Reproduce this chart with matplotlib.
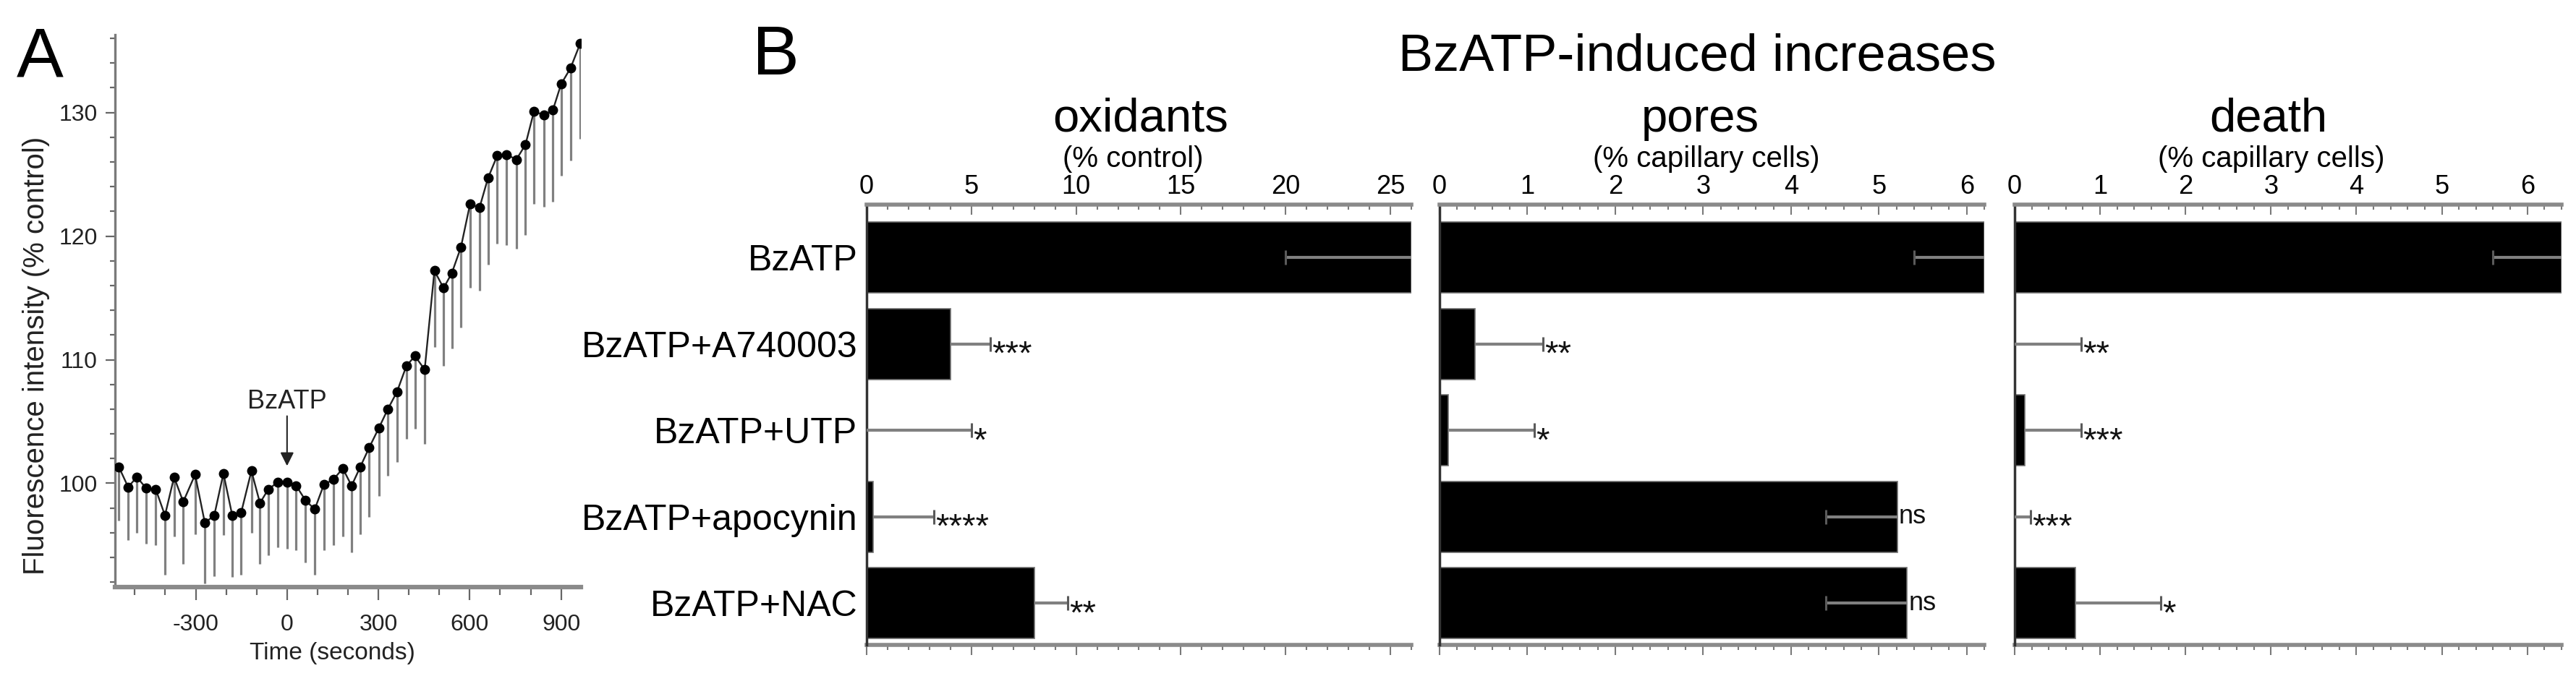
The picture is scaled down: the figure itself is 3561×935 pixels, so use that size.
import matplotlib.pyplot as plt
from matplotlib.ticker import MultipleLocator

plt.rcParams['font.family'] = ['Liberation Sans', 'DejaVu Sans']
plt.rcParams['axes.unicode_minus'] = False

# ---- panel A: time course -------------------------------------------------
times_s = [-552, -522, -493, -463, -431, -401, -371, -341, -302, -270, -239,
           -209, -180, -151, -117, -89, -62, -30, 0, 30, 61, 91, 121, 152,
           183, 212, 240, 270, 302, 331, 361, 392, 420, 452, 484, 514, 541,
           571, 601, 632, 660, 690, 721, 753, 783, 811, 843, 873, 900, 931, 963]
fluor = [101.3, 99.7, 100.5, 99.6, 99.5, 97.4, 100.5, 98.5, 100.7, 96.8, 97.4,
         100.8, 97.4, 97.6, 101.0, 98.4, 99.5, 100.1, 100.1, 99.8, 98.6, 97.9,
         99.9, 100.3, 101.2, 99.8, 101.3, 102.9, 104.5, 106.0, 107.4, 109.5,
         110.3, 109.2, 117.2, 115.8, 117.0, 119.1, 122.6, 122.3, 124.7, 126.5,
         126.6, 126.2, 127.4, 130.1, 129.8, 130.2, 132.3, 133.6, 135.6]
fluor_lo = [97.0, 95.4, 96.0, 95.1, 95.0, 92.6, 95.7, 93.5, 95.9, 91.9, 92.5,
            95.8, 92.4, 92.6, 96.0, 93.5, 94.2, 94.8, 94.7, 94.6, 93.6, 92.6,
            94.6, 95.0, 95.7, 94.4, 95.9, 97.3, 99.0, 100.6, 101.7, 103.6,
            104.4, 103.2, 111.0, 109.5, 110.9, 112.6, 115.8, 115.6, 117.7, 119.4,
            119.3, 119.0, 120.1, 122.6, 122.4, 122.8, 124.9, 126.1, 127.9]

# ---- panel B: bar charts --------------------------------------------------
groups = ['BzATP', 'BzATP+A740003', 'BzATP+UTP', 'BzATP+apocynin', 'BzATP+NAC']
oxidants = [26.0, 4.0, 0.0, 0.3, 8.0]
oxidants_err = [20.0, 5.9, 5.0, 3.2, 9.6]
oxidants_sig = ['', '***', '*', '****', '**']
pores = [6.2, 0.4, 0.1, 5.21, 5.32]
pores_err = [5.4, 1.18, 1.08, 4.4, 4.4]
pores_sig = ['', '**', '*', 'ns', 'ns']
death = [6.4, 0.0, 0.12, 0.0, 0.71]
death_err = [5.6, 0.78, 0.78, 0.19, 1.71]
death_sig = ['', '**', '***', '***', '*']

W, H = 3562, 935
fig = plt.figure(figsize=(W / 100, H / 100), dpi=100)


def px_axes(l, t, r, b):
    return fig.add_axes([l / W, 1 - b / H, (r - l) / W, (b - t) / H])


axA = px_axes(159, 48, 803, 812)
axA.vlines(times_s, fluor_lo, fluor, color='#808080', lw=2.3, zorder=1)
axA.plot(times_s, fluor, color='#222222', lw=1.7, zorder=2)
axA.plot(times_s, fluor, 'o', color='k', ms=9, zorder=3)
axA.set_xlim(-565, 965)
axA.set_ylim(91.6, 136.3)
axA.set_xticks([-300, 0, 300, 600, 900])
axA.xaxis.set_minor_locator(MultipleLocator(100))
axA.set_yticks([100, 110, 120, 130])
axA.yaxis.set_minor_locator(MultipleLocator(2))
for s in ['top', 'right']:
    axA.spines[s].set_visible(False)
axA.spines['left'].set_color('#7a7a7a')
axA.spines['left'].set_linewidth(2.4)
axA.spines['bottom'].set_color('#8a8a8a')
axA.spines['bottom'].set_linewidth(4.5)
axA.tick_params(axis='x', which='major', length=13, width=1.6, pad=14,
                labelsize=23, color='#666666', labelcolor='#222222')
axA.tick_params(axis='x', which='minor', length=8, width=1.6, color='#666666')
axA.tick_params(axis='y', which='major', length=9.5, width=1.6, pad=8,
                labelsize=23, color='#666666', labelcolor='#222222')
axA.tick_params(axis='y', which='minor', length=5, width=1.6, color='#666666')
axA.set_xlabel('Time (seconds)', fontsize=24, color='#222222')
axA.xaxis.set_label_coords(0.466, -0.1)
axA.annotate('BzATP', xy=(0, 101.4), xytext=(0, 105.6), ha='center', va='bottom',
             fontsize=26, color='#222222',
             arrowprops=dict(arrowstyle='-|>', color='#222222', lw=1.5,
                             mutation_scale=28, shrinkA=0, shrinkB=0))
fig.text(50 / W, 1 - 492 / H, 'Fluorescence intensity (% control)', rotation=90,
         ha='center', va='center', fontsize=29, color='#222222')

fig.text(23 / W, 1 - 105 / H, 'A', fontsize=70, va='baseline', ha='left')
fig.text(1040 / W, 1 - 103 / H, 'B', fontsize=70, va='baseline', ha='left')
fig.text(2346 / W, 1 - 97 / H, 'BzATP-induced increases', fontsize=52,
         ha='center', va='baseline')

rows = list(range(len(groups)))
panels = [
    (1198, 1951, oxidants, oxidants_err, oxidants_sig, 26.0, 5, 1,
     'oxidants', '(% control)', 1577, 1566),
    (1990, 2743, pores, pores_err, pores_sig, 6.2, 1, 0.2,
     'pores', '(% capillary cells)', 2350, 2359),
    (2785, 3541, death, death_err, death_sig, 6.4, 1, 0.2,
     'death', '(% capillary cells)', 3136, 3140),
]

for k, (l, r, vals, errs, sigs, xmax, major, minor, title, unit, tx, ux) in enumerate(panels):
    ax = px_axes(l, 283, r, 892)
    ax.barh(rows, vals, height=0.82, color='k', edgecolor='#6e6e6e', lw=1.2, zorder=2)
    for y, v, e, s in zip(rows, vals, errs, sigs):
        ax.hlines(y, v, e, color='#808080', lw=3, zorder=3)
        ax.plot(e, y, marker='|', ms=14, mew=2.2, color='#5a5a5a', zorder=3)
        if s:
            fs = 26 if s == 'ns' else 34
            dy = -0.27 * fs if s == 'ns' else -0.6 * fs
            ax.annotate(s, (max(v, e), y), xytext=(1.5, dy), textcoords='offset points',
                        ha='left', va='baseline', fontsize=fs, color='#111111',
                        annotation_clip=False, zorder=4)
    ax.set_xlim(0, xmax)
    ax.set_ylim(4.485, -0.611)
    ax.xaxis.set_major_locator(MultipleLocator(major))
    ax.xaxis.set_minor_locator(MultipleLocator(minor))
    ax.tick_params(axis='x', which='both', direction='in', top=True, bottom=False,
                   labeltop=True, labelbottom=False, color='#7a7a7a', width=1.5,
                   labelsize=26, pad=5)
    ax.tick_params(axis='x', which='major', length=10)
    ax.tick_params(axis='x', which='minor', length=5)
    ax.spines['right'].set_visible(False)
    ax.spines['bottom'].set_visible(False)
    ax.spines['top'].set_color('#8a8a8a')
    ax.spines['top'].set_linewidth(4)
    ax.spines['left'].set_color('#333333')
    ax.spines['left'].set_linewidth(2.5)
    if k == 0:
        ax.set_yticks(rows, groups, fontsize=36)
        ax.tick_params(axis='y', length=0, pad=9)
    else:
        ax.set_yticks([])

    sec = ax.secondary_xaxis('bottom')
    sec.xaxis.set_major_locator(MultipleLocator(major))
    sec.xaxis.set_minor_locator(MultipleLocator(minor))
    sec.tick_params(which='both', direction='out', labelbottom=False,
                    color='#7a7a7a', width=1.5)
    sec.tick_params(which='major', length=10)
    sec.tick_params(which='minor', length=5)
    sec.spines['bottom'].set_color('#8a8a8a')
    sec.spines['bottom'].set_linewidth(4)

    fig.text(tx / W, 1 - 182 / H, title, ha='center', va='baseline', fontsize=47)
    fig.text(ux / W, 1 - 220 / H, unit, ha='center', va='center', fontsize=29)

fig.savefig('out.png', dpi=100)
